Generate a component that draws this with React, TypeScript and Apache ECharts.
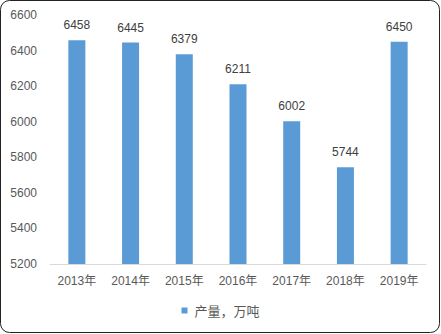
import React, { useEffect, useRef } from "react";
import * as echarts from "echarts";

const categories = ["2013年", "2014年", "2015年", "2016年", "2017年", "2018年", "2019年"];
const values = [6458, 6445, 6379, 6211, 6002, 5744, 6450];
const seriesName = "产量，万吨";

const FONT = "'Liberation Sans', 'Noto Sans CJK SC', sans-serif";

export default function App() {
  const ref = useRef<HTMLDivElement>(null);
  useEffect(() => {
    document.body.style.margin = "0";
    const chart = echarts.init(ref.current!, null, { renderer: "svg" });
    chart.setOption({
      animation: false,
      backgroundColor: "#fff",
      textStyle: { fontFamily: FONT },
      graphic: [
        {
          type: "rect",
          shape: { x: 0.5, y: 0.5, width: 439, height: 332, r: 9 },
          style: { fill: "none", stroke: "#222", lineWidth: 1 },
          silent: true,
          z: 100,
        },
      ],
      grid: { left: 50, right: 15, top: 15, bottom: 70 },
      legend: {
        bottom: 12,
        left: "center",
        icon: "rect",
        itemWidth: 6,
        itemHeight: 6,
        itemGap: 5,
        textStyle: {
          color: "#595959",
          fontSize: 13,
          padding: [0, 0, 0, 2],
          fontFamily: "'Noto Sans CJK SC', sans-serif",
        },
        data: [seriesName],
      },
      xAxis: {
        type: "category",
        data: categories,
        axisLine: { lineStyle: { color: "#D9D9D9", width: 1 } },
        axisTick: { show: false },
        axisLabel: { color: "#595959", fontSize: 12, margin: 11, fontFamily: FONT },
      },
      yAxis: {
        type: "value",
        min: 5200,
        max: 6600,
        interval: 200,
        axisLine: { show: false },
        axisTick: { show: false },
        splitLine: { show: false },
        axisLabel: {
          color: "#595959",
          fontSize: 12,
          margin: 13,
          fontFamily: FONT,
          formatter: (v: number) => String(v),
        },
      },
      series: [
        {
          name: seriesName,
          type: "bar",
          data: values,
          barWidth: 17,
          itemStyle: { color: "#5B9BD5" },
          label: {
            show: true,
            position: "top",
            distance: 9,
            color: "#404040",
            fontSize: 12,
            fontFamily: FONT,
          },
        },
      ],
    });
    return () => chart.dispose();
  }, []);
  return <div ref={ref} style={{ width: 441, height: 334 }} />;
}
